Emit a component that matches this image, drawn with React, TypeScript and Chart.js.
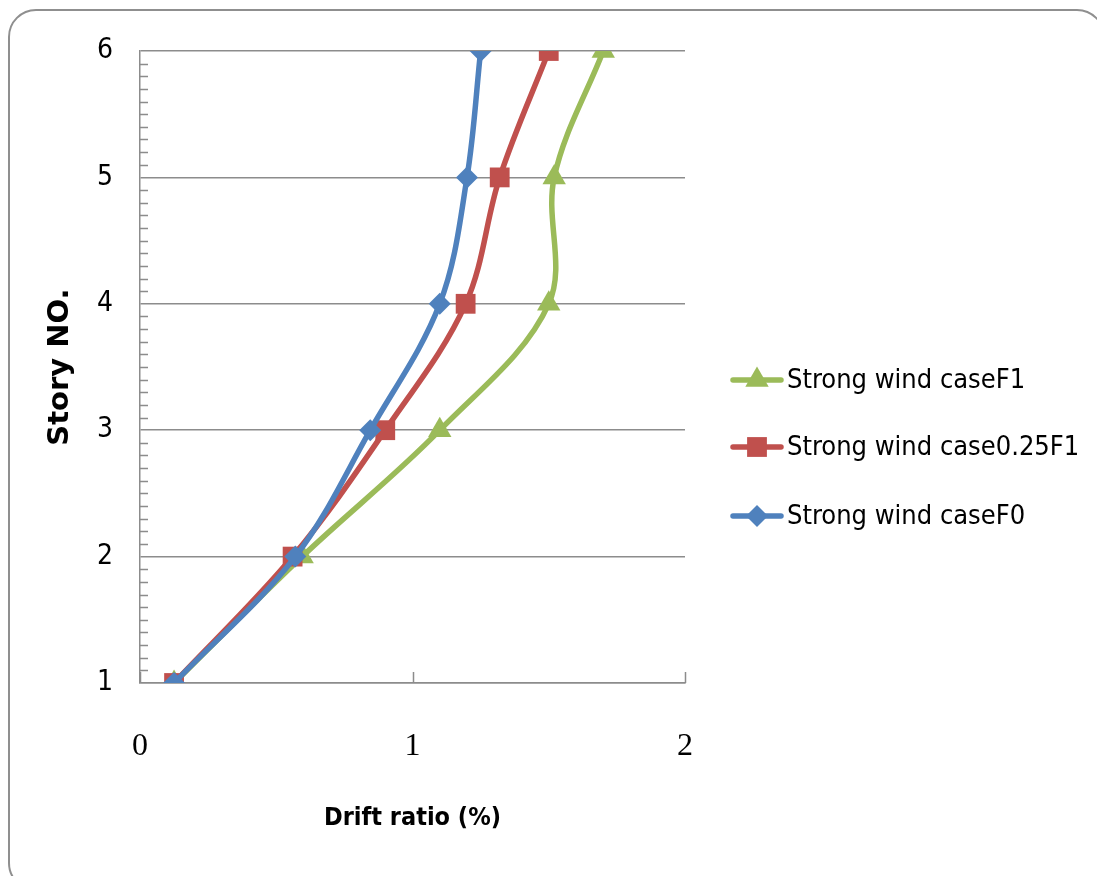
import { useEffect, useRef } from 'react';
import { Chart, registerables } from 'chart.js';

Chart.register(...registerables);

// Story levels (y) and drift ratios (%) per load case
const storyLevels = [1, 2, 3, 4, 5, 6];
const driftCaseF1 = [0.125, 0.595, 1.1, 1.5, 1.52, 1.7];
const driftCase025F1 = [0.125, 0.56, 0.9, 1.195, 1.32, 1.5];
const driftCaseF0 = [0.125, 0.57, 0.845, 1.1, 1.2, 1.25];

const seriesNames = ['Strong wind caseF1', 'Strong wind case0.25F1', 'Strong wind caseF0'];
const seriesValues = [driftCaseF1, driftCase025F1, driftCaseF0];
const seriesColors = ['#9BBB59', '#C0504D', '#4F81BD'];
const seriesMarkers = ['triangle', 'rect', 'rectRot'];
const markerRadii = [13.5, 14, 11];

const xAxisTicks = [0, 1, 2];
const yAxisTicks = [1, 2, 3, 4, 5, 6];

const narrowFont = "'Liberation Sans Narrow', 'DejaVu Sans Condensed', 'Open Sans', sans-serif";
const axisGray = '#8c8c8c';
const legendRows = [380, 447, 516];

function drawMarker(ctx: CanvasRenderingContext2D, style: string, r: number, x: number, y: number) {
  ctx.beginPath();
  if (style === 'triangle') {
    ctx.moveTo(x, y - r);
    ctx.lineTo(x + r * Math.sin((2 * Math.PI) / 3), y - r * Math.cos((2 * Math.PI) / 3));
    ctx.lineTo(x + r * Math.sin((4 * Math.PI) / 3), y - r * Math.cos((4 * Math.PI) / 3));
  } else if (style === 'rect') {
    const s = Math.SQRT1_2 * r;
    ctx.rect(x - s, y - s, 2 * s, 2 * s);
  } else {
    ctx.moveTo(x, y - r);
    ctx.lineTo(x + r, y);
    ctx.lineTo(x, y + r);
    ctx.lineTo(x - r, y);
  }
  ctx.closePath();
  ctx.fill();
}

// Inward minor ticks on the story axis and inward major ticks on the drift axis
const innerTicks = {
  id: 'innerTicks',
  beforeDatasetsDraw(chart: any) {
    const { ctx, scales } = chart;
    const x = scales.x;
    const y = scales.y;
    ctx.save();
    ctx.strokeStyle = axisGray;
    ctx.lineWidth = 1.5;
    ctx.beginPath();
    for (let i = 0; i < yAxisTicks.length - 1; i++) {
      for (let k = 1; k < 10; k++) {
        const py = Math.round(y.getPixelForValue(yAxisTicks[i] + k / 10)) + 0.5;
        ctx.moveTo(x.left, py);
        ctx.lineTo(x.left + 8, py);
      }
    }
    for (const v of xAxisTicks) {
      const px = Math.round(x.getPixelForValue(v)) + 0.5;
      ctx.moveTo(px, y.bottom);
      ctx.lineTo(px, y.bottom - 11);
    }
    ctx.stroke();
    ctx.restore();
  },
};

// Legend with line + marker samples to the right of the plot
const sideLegend = {
  id: 'sideLegend',
  afterDraw(chart: any) {
    const ctx = chart.ctx;
    ctx.save();
    seriesNames.forEach((name, i) => {
      const yy = legendRows[i];
      ctx.strokeStyle = seriesColors[i];
      ctx.lineWidth = 5.5;
      ctx.lineCap = 'round';
      ctx.beginPath();
      ctx.moveTo(733, yy);
      ctx.lineTo(781, yy);
      ctx.stroke();
      ctx.fillStyle = seriesColors[i];
      drawMarker(ctx, seriesMarkers[i], markerRadii[i], 757, yy);
      ctx.fillStyle = '#000';
      ctx.font = `27px ${narrowFont}`;
      ctx.textBaseline = 'middle';
      ctx.textAlign = 'left';
      ctx.fillText(name, 787, yy + 1);
    });
    ctx.restore();
  },
};

export default function App() {
  const canvasRef = useRef<HTMLCanvasElement | null>(null);

  useEffect(() => {
    const canvas = canvasRef.current;
    if (!canvas) return;
    const chart = new Chart(canvas, {
      type: 'line',
      data: {
        datasets: seriesNames.map((name, i) => ({
          label: name,
          data: seriesValues[i].map((v, j) => ({ x: v, y: storyLevels[j] })),
          borderColor: seriesColors[i],
          backgroundColor: seriesColors[i],
          borderWidth: 5.5,
          tension: 0.35,
          pointStyle: seriesMarkers[i] as any,
          pointRadius: markerRadii[i],
          pointBorderWidth: 0,
          pointHoverRadius: markerRadii[i],
          fill: false,
          order: 2 - i,
        })),
      },
      options: {
        animation: false,
        responsive: false,
        devicePixelRatio: 1,
        events: [],
        layout: { padding: { left: 0, top: 51, right: 412, bottom: 0 } },
        plugins: {
          legend: { display: false },
          tooltip: { enabled: false },
        },
        scales: {
          x: {
            type: 'linear',
            min: 0,
            max: 2,
            afterFit: (s: any) => {
              s.height = 193;
            },
            afterBuildTicks: (s: any) => {
              s.ticks = xAxisTicks.map((v) => ({ value: v }));
            },
            grid: { display: false, drawTicks: false },
            border: { display: true, color: axisGray, width: 1.5 },
            ticks: {
              padding: 44,
              color: '#000',
              font: { family: "'Liberation Serif', 'DejaVu Serif', serif", size: 32 },
            },
            title: {
              display: true,
              text: 'Drift ratio (%)',
              color: '#000',
              font: { family: narrowFont, size: 25, weight: 'bold' },
              padding: { top: 0, bottom: 43 },
            },
          },
          y: {
            type: 'linear',
            min: 1,
            max: 6,
            afterFit: (s: any) => {
              s.width = 140;
            },
            afterBuildTicks: (s: any) => {
              s.ticks = yAxisTicks.map((v) => ({ value: v }));
            },
            grid: { display: true, color: axisGray, lineWidth: 1.5, drawTicks: false },
            border: { display: true, color: axisGray, width: 1.5 },
            ticks: {
              padding: 27,
              color: '#000',
              font: { family: narrowFont, size: 28 },
            },
            title: {
              display: true,
              text: 'Story NO.',
              color: '#000',
              font: { family: "'DejaVu Sans', sans-serif", size: 29, weight: 'bold' },
              padding: { top: 43, bottom: 0 },
            },
          },
        },
      },
      plugins: [innerTicks, sideLegend],
    });
    return () => chart.destroy();
  }, []);

  return (
    <div style={{ position: 'fixed', left: 0, top: 0, width: 1097, height: 876, overflow: 'hidden', background: '#fff' }}>
      <div
        style={{
          position: 'absolute',
          left: 8,
          top: 9,
          width: 1097,
          height: 882,
          boxSizing: 'border-box',
          border: '2px solid #8f8f8f',
          borderRadius: 28,
        }}
      />
      <canvas
        ref={canvasRef}
        width={1097}
        height={876}
        style={{ position: 'absolute', left: 0, top: 0, width: 1097, height: 876 }}
      />
    </div>
  );
}
